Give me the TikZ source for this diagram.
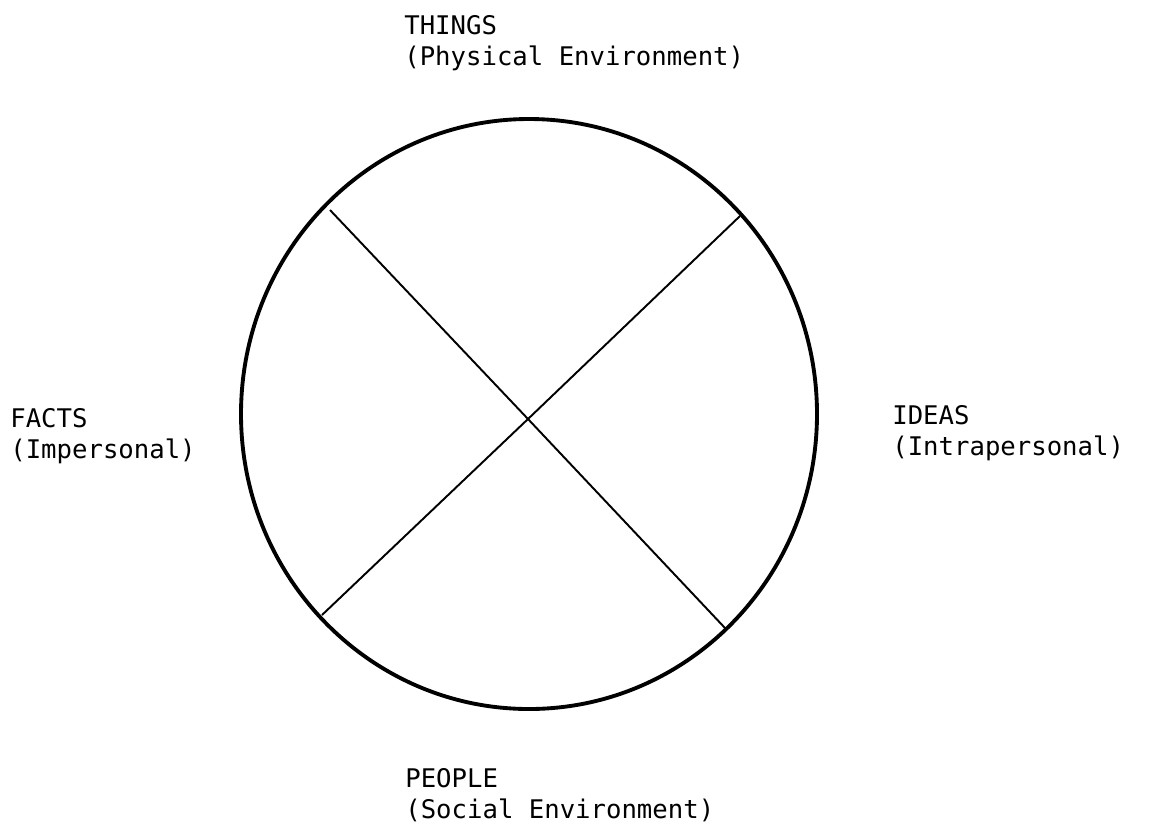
\documentclass[tikz,border=0pt]{standalone}
\usepackage{fontspec}
\setmonofont{DejaVu Sans Mono}
\usetikzlibrary{positioning}

\begin{document}
\begin{tikzpicture}[x=0.02cm,y=-0.02cm,
  realm/.style={anchor=north west,inner sep=0pt,align=left,font=\ttfamily\fontsize{14.6pt}{17.6pt}\selectfont},
  ring/.style={line width=2.2pt},
  split/.style={line width=1.1pt}]
\useasboundingbox (0,0) rectangle (1149,826);

% the circle
\draw[ring] (529,414) ellipse [x radius=288, y radius=295];

% crossing lines
\coordinate (hub) at (528,419);
\coordinate (nw) at (330,210);
\coordinate (ne) at (740,216);
\coordinate (sw) at (322,615);
\coordinate (se) at (725,628);
\draw[split] (nw) -- (hub) -- (se);
\draw[split] (ne) -- (hub) -- (sw);

% labels
\node[realm] (things) at (404,15) {THINGS\\(Physical Environment)};
\node[realm] (facts) at (10,408) {FACTS\\(Impersonal)};
\node[realm] (ideas) at (892,405) {IDEAS\\(Intrapersonal)};
\node[realm] (people) at (405,768) {PEOPLE\\(Social Environment)};
\end{tikzpicture}
\end{document}
